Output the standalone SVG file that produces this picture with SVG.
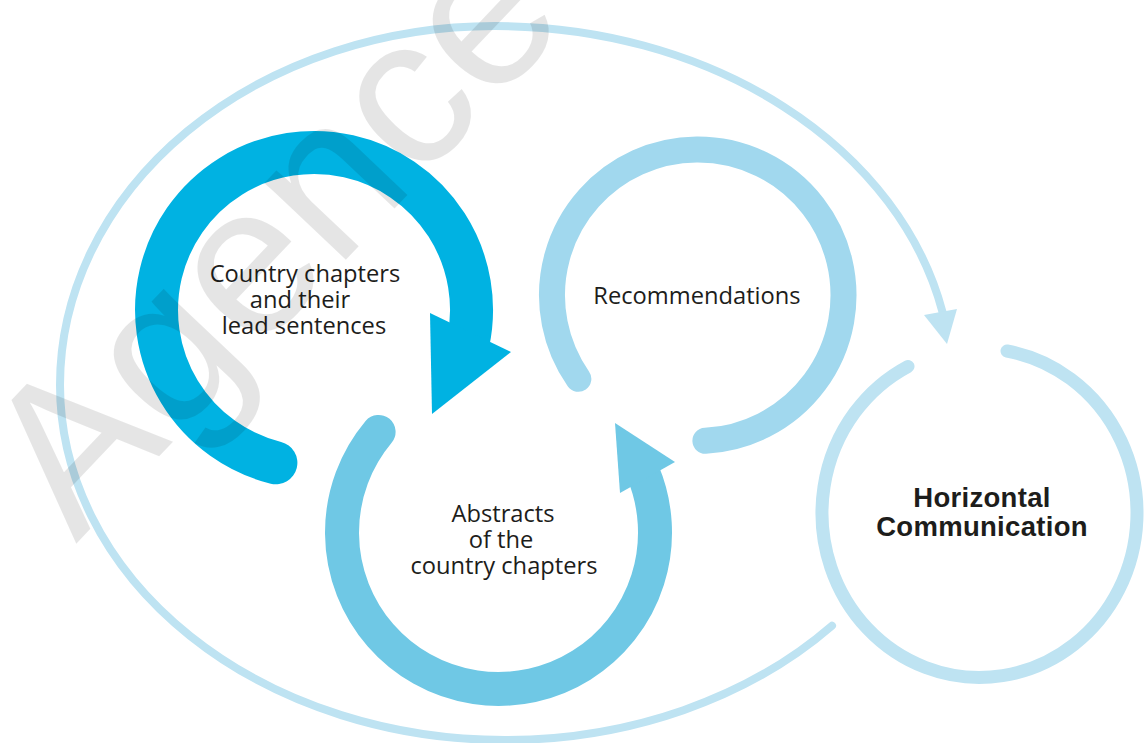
<svg xmlns="http://www.w3.org/2000/svg" width="1147" height="743" viewBox="0 0 1147 743">
  <style>
    .lbl { font-family: "Open Sans", "Liberation Sans", sans-serif; font-size: 23.7px; fill: #1d1d1b; text-anchor: middle; }
    .bold { font-family: "Liberation Sans", Arial, sans-serif; font-size: 27.5px; font-weight: bold; fill: #1d1d1b; text-anchor: middle; letter-spacing: 0.3px; }
    .ring { fill: none; stroke-linecap: round; }
    .wm { font-family: "Liberation Sans", Arial, sans-serif; font-size: 212px; fill: #000; fill-opacity: 0.1; }
  </style>
  <rect width="1147" height="743" fill="#ffffff"/>

  <g id="connectors">
    <path class="ring" stroke="#bee3f2" stroke-width="8" d="M832,625.7 A445,355 0 0 1 505,740 A445,355 0 0 1 60,385 A435,359 0 0 1 495,26 A457,359 0 0 1 942.5,312"/>
    <polygon fill="#bee3f2" points="924,315 957,309 947,344"/>
  </g>

  <g id="node-country-chapters">
    <path class="ring" stroke="#00b2e2" stroke-width="43" d="M275.9,462.8 A157.5,157.5 0 1 1 468.1,342.7"/>
    <polygon fill="#00b2e2" points="430,313 511,352 432,414"/>
    <text class="lbl" x="305" y="282">Country chapters</text>
    <text class="lbl" x="300" y="308">and their</text>
    <text class="lbl" x="304" y="334">lead sentences</text>
  </g>

  <g id="node-recommendations">
    <path class="ring" stroke="#a1d8ee" stroke-width="26" d="M578.35,378.85 A145.75,145.75 0 1 1 705.4,440.8"/>
    <text class="lbl" x="697" y="304">Recommendations</text>
  </g>

  <g id="node-abstracts">
    <path class="ring" stroke="#6fc8e5" stroke-width="34" d="M378.6,431.9 A156.5,156.5 0 1 0 642.6,471.4"/>
    <polygon fill="#6fc8e5" points="615,423 675,462 620,493"/>
    <text class="lbl" x="503" y="521.5">Abstracts</text>
    <text class="lbl" x="501" y="547.5">of the</text>
    <text class="lbl" x="504" y="573.5">country chapters</text>
  </g>

  <g id="node-horizontal-communication">
    <path class="ring" stroke="#bee3f2" stroke-width="13" d="M908,366.4 A157.5,164.5 0 1 0 1007,351"/>
    <text class="bold" x="982" y="506.5">Horizontal</text>
    <text class="bold" x="982" y="536">Communication</text>
  </g>

  <g id="watermark">
    <text class="wm" transform="translate(76,544) rotate(-46.5)">Agence</text>
  </g>
</svg>
